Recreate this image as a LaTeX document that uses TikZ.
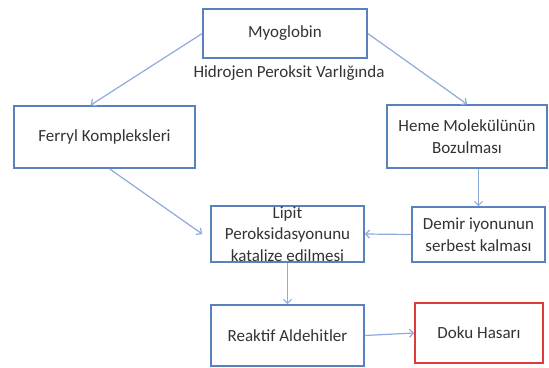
\documentclass[tikz,border=0pt]{standalone}
\usepackage{fontspec}
\setmainfont{Carlito}
\usepackage{xcolor}
\usetikzlibrary{arrows.meta}
\definecolor{boxblue}{HTML}{5A80C0}
\definecolor{arrowblue}{HTML}{8FAADC}
\definecolor{alertred}{HTML}{E03A3A}
\definecolor{textgray}{HTML}{333333}
\tikzset{every node/.append style={font=\fontsize{17}{21.5}\selectfont,text=textgray}}

\begin{document}
\begin{tikzpicture}[x=1pt,y=-1pt,>={Straight Barb[length=4pt,width=8pt]},
  box/.style={draw=boxblue,line width=1.6pt,fill=white,align=center,inner sep=0pt},
  flow/.style={->,arrowblue,line width=1.2pt}]
\useasboundingbox[fill=white] (0,0) rectangle (549,367);
\node[box,minimum width=164pt,minimum height=49pt] (myo) at (285,33.5) {Myoglobin};
\node (h2o2) at (289,73) {Hidrojen Peroksit Varlığında};
\node[box,minimum width=181pt,minimum height=62pt] (ferryl) at (104.5,137) {Ferryl Kompleksleri};
\node[box,minimum width=160pt,minimum height=63pt] (heme) at (467,136.5) {Heme Molekülünün\\Bozulması};
\node[box,minimum width=153pt,minimum height=56pt] (lipit) at (287.5,234) {Lipit\\Peroksidasyonunu\\katalize edilmesi};
\node[box,minimum width=133pt,minimum height=55pt] (demir) at (478.5,234.5) {Demir iyonunun\\serbest kalması};
\node[box,minimum width=153pt,minimum height=61pt] (reaktif) at (287.5,335.5) {Reaktif Aldehitler};
\node[box,draw=alertred,minimum width=128pt,minimum height=60pt] (doku) at (479,333) {Doku Hasarı};
\draw[flow] (myo.west) -- ([xshift=-14pt]ferryl.north);
\draw[flow] (myo.east) -- (heme.north);
\draw[flow] ([xshift=5pt]ferryl.south) -- ([xshift=-8pt]lipit.west);
\draw[flow] (heme.south -| demir.north) -- (demir.north);
\draw[flow] (demir.west) -- (lipit.east);
\draw[flow] (lipit.south) -- (reaktif.north);
\draw[flow] (reaktif.east) -- (doku.west);
\end{tikzpicture}
\end{document}
